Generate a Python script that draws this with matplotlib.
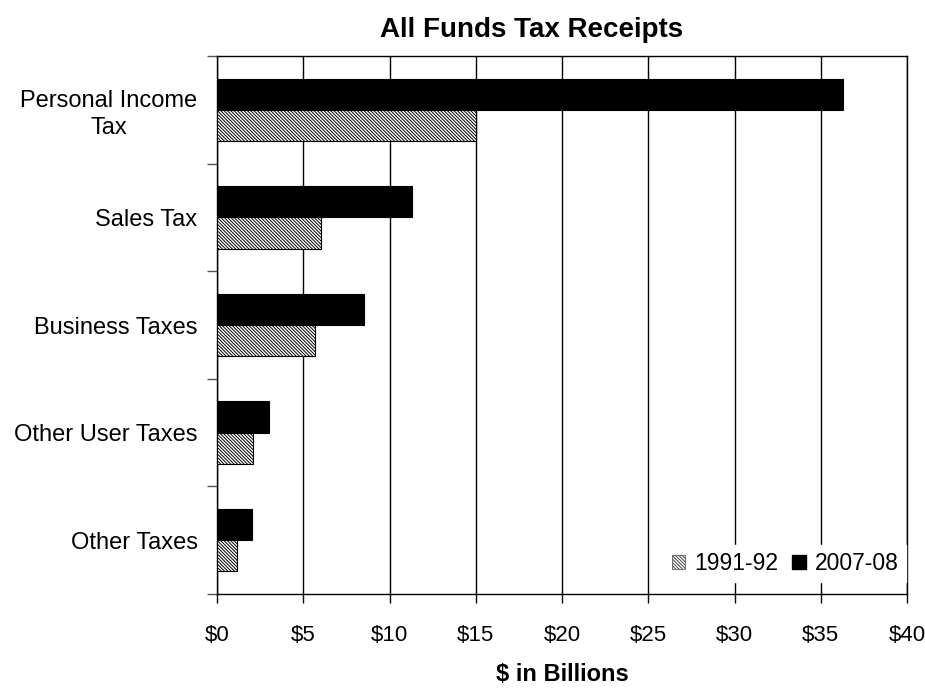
import numpy as np
import matplotlib
matplotlib.use("Agg")
import matplotlib.pyplot as plt
from matplotlib.patches import Patch

# data ($ billions)
categories = ["Personal Income\nTax", "Sales Tax", "Business Taxes", "Other User Taxes", "Other Taxes"]
receipts_1991 = [15.0, 6.05, 5.7, 2.1, 1.15]
receipts_2007 = [36.3, 11.3, 8.5, 3.0, 2.0]
series_labels = ["1991-92", "2007-08"]
x_ticks = [0, 5, 10, 15, 20, 25, 30, 35, 40]

plt.rcParams['font.family'] = ['Liberation Sans', 'DejaVu Sans']
plt.rcParams['hatch.linewidth'] = 0.7
plt.rcParams['hatch.color'] = '#303030'
HATCH = '\\' * 10

fig = plt.figure(figsize=(9.25, 6.88), dpi=100)
ax = fig.add_axes([217/925, 1-594/688, 690/925, 538/688])

y = np.arange(len(categories))
h = 0.29
ax.barh(y - h/2, receipts_2007, height=h, color='black', edgecolor='black', linewidth=0.8, zorder=3)
ax.barh(y + h/2, receipts_1991, height=h, color='white', edgecolor='black', linewidth=0.8,
        hatch=HATCH, zorder=3)

ax.set_xlim(0, 40)
ax.set_ylim(len(categories) - 0.5, -0.5)
ax.set_xticks(x_ticks)
ax.set_xticklabels(["$%d" % v for v in x_ticks], fontsize=16)
ax.set_yticks(y)
ax.set_yticklabels(categories, fontsize=17, multialignment='center', linespacing=1.25)
ax.set_yticks(np.arange(-0.5, len(categories)), minor=True)
ax.tick_params(axis='y', which='major', length=0, pad=14)
ax.tick_params(axis='y', which='minor', length=7, width=1, color='#555555')
ax.tick_params(axis='x', which='major', length=6.5, width=1, pad=16)

ax.grid(axis='x', color='black', linewidth=1)
ax.set_axisbelow(True)
for s in ax.spines.values():
    s.set_color('black')
    s.set_linewidth(1)

ax.set_xlabel("$ in Billions", fontsize=17, fontweight='bold', labelpad=12)
fig.text(532/925, 1-37/688, "All Funds Tax Receipts", fontsize=20, fontweight='bold',
         ha='center', va='baseline')

handles = [Patch(facecolor='white', edgecolor='#444444', hatch=HATCH, linewidth=0.5),
           Patch(facecolor='black', edgecolor='black')]
leg = ax.legend(handles, series_labels, loc='lower right', bbox_to_anchor=(1, 0.02), ncol=2,
                fontsize=16.5, frameon=True, handlelength=0.6, handleheight=0.6,
                handletextpad=0.4, columnspacing=0.6, borderaxespad=0.05,
                fancybox=False, borderpad=0.3)
leg.get_frame().set_edgecolor('white')
leg.get_frame().set_alpha(1)
leg.set_zorder(5)

fig.savefig("out.png", dpi=100)
